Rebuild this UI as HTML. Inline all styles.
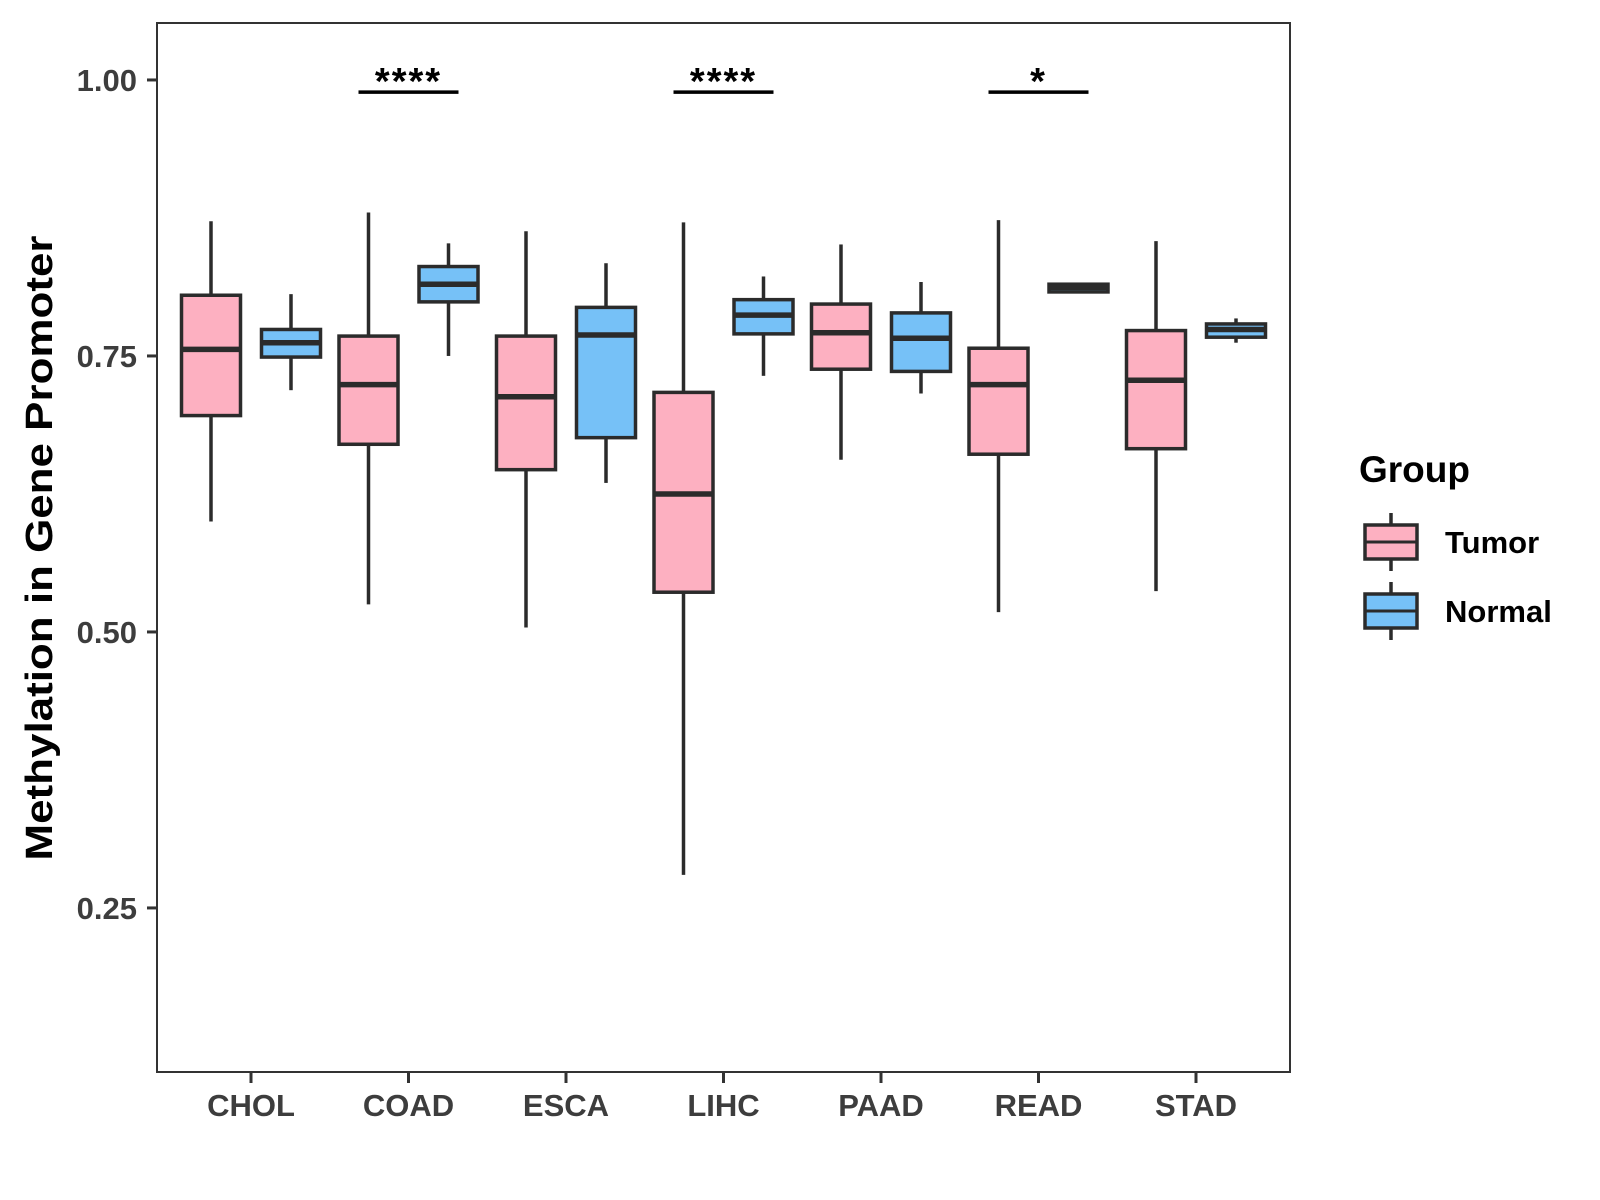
<!DOCTYPE html>
<html><head><meta charset="utf-8"><style>
html,body{margin:0;padding:0;background:#fff;}
svg{display:block;font-family:"Liberation Sans",Arial,sans-serif;}
</style></head><body>
<svg id="chart" width="1600" height="1200" viewBox="0 0 1600 1200" xmlns="http://www.w3.org/2000/svg">
<rect x="0" y="0" width="1600" height="1200" fill="#fff"/>
<g id="plot"></g>
</svg>
<script>
const categories = ["CHOL","COAD","ESCA","LIHC","PAAD","READ","STAD"];
// [low whisker, Q1, median, Q3, high whisker]
const tumorStats = [
 [0.600,0.696,0.756,0.805,0.872],
 [0.525,0.670,0.724,0.768,0.880],
 [0.504,0.647,0.713,0.768,0.863],
 [0.280,0.536,0.625,0.717,0.871],
 [0.656,0.738,0.771,0.797,0.851],
 [0.518,0.661,0.724,0.757,0.873],
 [0.537,0.666,0.728,0.773,0.854]
];
const normalStats = [
 [0.719,0.749,0.762,0.774,0.806],
 [0.750,0.799,0.815,0.831,0.852],
 [0.635,0.676,0.769,0.794,0.834],
 [0.732,0.770,0.787,0.801,0.822],
 [0.716,0.736,0.766,0.789,0.817],
 [0.808,0.808,0.812,0.815,0.815],
 [0.762,0.767,0.774,0.779,0.784]
];
const yTicks = [0.25,0.50,0.75,1.00];
const yTickLabels = ["0.25","0.50","0.75","1.00"];
const sigCategories = ["COAD","LIHC","READ"];
const sigLabels = ["****","****","*"];
const sigLevel = 0.989;

const NS="http://www.w3.org/2000/svg";
const g=document.getElementById('plot');
const P={l:157,r:1290,t:23,b:1072};
const yMin=0.1014,yMax=1.0516;
function y(v){return P.b-(v-yMin)/(yMax-yMin)*(P.b-P.t);}
function x(i){return 251+i*157.5;}
function el(tag,attrs,parent){const e=document.createElementNS(NS,tag);for(const k in attrs)e.setAttribute(k,attrs[k]);(parent||g).appendChild(e);return e;}
const stroke="#2b2b2b";

function drawBox(cx,s,fill,name,w){
  const grp=el('g',{});
  
  
  el('line',{x1:cx,x2:cx,y1:y(s[4]),y2:y(s[3]),stroke:stroke,'stroke-width':3.5},grp);
  el('line',{x1:cx,x2:cx,y1:y(s[1]),y2:y(s[0]),stroke:stroke,'stroke-width':3.5},grp);
  el('rect',{x:cx-w/2,y:y(s[3]),width:w,height:Math.max(y(s[1])-y(s[3]),1),fill:fill,stroke:stroke,'stroke-width':3.5},grp);
  el('line',{x1:cx-w/2,x2:cx+w/2,y1:y(s[2]),y2:y(s[2]),stroke:stroke,'stroke-width':5.5},grp);
}

yTicks.forEach((v,i)=>{
  el('line',{x1:147,x2:P.l,y1:y(v),y2:y(v),stroke:"#333",'stroke-width':3});
  const t=el('text',{x:137,y:y(v)+11,'text-anchor':'end','font-size':31,'font-weight':'bold',fill:"#3d3d3d"});
  t.textContent=yTickLabels[i];
  
  
});
categories.forEach((c,i)=>{
  el('line',{x1:x(i),x2:x(i),y1:P.b,y2:P.b+11,stroke:"#333",'stroke-width':3});
  const t=el('text',{x:x(i),y:1116,'text-anchor':'middle','font-size':31,'font-weight':'bold',fill:"#3d3d3d"});
  t.textContent=c;
  
  
  drawBox(x(i)-40,tumorStats[i],"#FDB0C1",'box-tumor-'+c.toLowerCase(),59);
  drawBox(x(i)+40,normalStats[i],"#76C1F7",'box-normal-'+c.toLowerCase(),59);
});
sigCategories.forEach((c,k)=>{
  const i=categories.indexOf(c);
  el('line',{x1:x(i)-50,x2:x(i)+50,y1:y(sigLevel),y2:y(sigLevel),stroke:"#000",'stroke-width':3.5});
  const t=el('text',{x:x(i),y:y(sigLevel)+2,'text-anchor':'middle','font-size':38,'font-weight':'bold',fill:"#000",'letter-spacing':2});
  t.textContent=sigLabels[k];
  
  
});
const frame=el('rect',{x:P.l,y:P.t,width:P.r-P.l,height:P.b-P.t,fill:'none',stroke:"#333",'stroke-width':2});



const yt=el('text',{x:0,y:0,transform:'translate(52,548) rotate(-90)','text-anchor':'middle','font-size':38,'font-weight':'bold',fill:'#000',textLength:625,lengthAdjust:'spacingAndGlyphs'});
yt.textContent="Methylation in Gene Promoter";



const lt=el('text',{x:1359,y:482,'font-size':37,'font-weight':'bold',fill:'#000'});
lt.textContent="Group";


[["Tumor","#FDB0C1",542],["Normal","#76C1F7",611]].forEach(d=>{
  const lg=el('g',{});
  
  
  el('line',{x1:1391,x2:1391,y1:d[2]-29,y2:d[2]+29,stroke:stroke,'stroke-width':3.5},lg);
  el('rect',{x:1365,y:d[2]-17,width:52,height:34,fill:d[1],stroke:stroke,'stroke-width':3.5},lg);
  el('line',{x1:1365,x2:1417,y1:d[2],y2:d[2],stroke:stroke,'stroke-width':3},lg);
  const t=el('text',{x:1445,y:d[2]+11,'font-size':31,'font-weight':'bold',fill:'#000'},lg);
  t.textContent=d[0];
});
</script>
</body></html>
